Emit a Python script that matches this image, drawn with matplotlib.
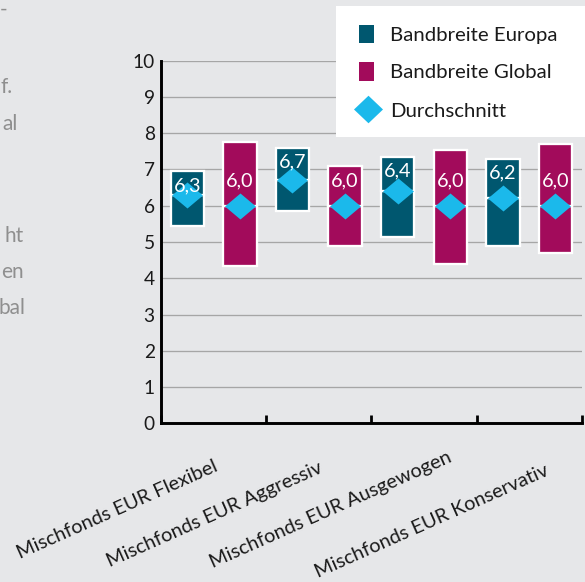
import matplotlib
matplotlib.use("Agg")
import matplotlib.pyplot as plt
from matplotlib.path import Path
from matplotlib.patches import Rectangle
import numpy as np

# ---- data -------------------------------------------------------------
categories = [
    "Mischfonds EUR Flexibel",
    "Mischfonds EUR Aggressiv",
    "Mischfonds EUR Ausgewogen",
    "Mischfonds EUR Konservativ",
]
series_names = ["Bandbreite Europa", "Bandbreite Global", "Durchschnitt"]

europa_low = np.array([5.45, 5.85, 5.15, 4.90])
europa_high = np.array([6.95, 7.60, 7.35, 7.30])
europa_avg = np.array([6.3, 6.7, 6.4, 6.2])

global_low = np.array([4.35, 4.90, 4.40, 4.70])
global_high = np.array([7.75, 7.10, 7.55, 7.70])
global_avg = np.array([6.0, 6.0, 6.0, 6.0])

y_ticks = list(range(0, 11))

# fragments of the neighbouring paragraph, clipped by the left edge
side_text = ["-", "f.", "al", "ht", "en", "bal"]

# ---- style ------------------------------------------------------------
BG = "#e6e7e9"
C_EU = "#00576f"
C_GL = "#a20b5b"
C_AVG = "#1bb9eb"
TXT = "#1a1a1a"
GRID = "#a6a6a6"

plt.rcParams["font.family"] = ["Lato", "DejaVu Sans"]

W, H = 585, 582
PT = 0.72  # points per pixel at 100 dpi


def px_box(x0, y0, x1, y1):
    """Figure-fraction rectangle from pixel edges (origin top-left)."""
    return [x0 / W, 1 - y1 / H, (x1 - x0) / W, (y1 - y0) / H]


def diamond(h):
    verts = [(-1, 0), (0, h), (1, 0), (0, -h), (-1, 0)]
    codes = [Path.MOVETO, Path.LINETO, Path.LINETO, Path.LINETO, Path.CLOSEPOLY]
    return Path(verts, codes)


def fmt(v):
    return f"{v:.1f}".replace(".", ",")


fig = plt.figure(figsize=(W / 100, H / 100), dpi=100, facecolor=BG)

# ---- side paragraph fragments ----------------------------------------
side_pos = [(7, 16), (13, 93), (18, 130), (24, 242), (24, 278), (26, 314)]
for s, (x, y) in zip(side_text, side_pos):
    fig.text(x / W, 1 - y / H, s, ha="right", va="baseline", fontsize=15,
             color="#8f8f8f")

# ---- main axes --------------------------------------------------------
ax = fig.add_axes(px_box(161, 60.7, 581.7, 423.3))
ax.set_facecolor(BG)
ax.set_xlim(0, 4)
ax.set_ylim(0, 10)
ax.set_axisbelow(True)

ax.set_yticks(y_ticks)
ax.yaxis.grid(True, color=GRID, lw=0.95)
ax.tick_params(axis="y", length=0, pad=4.5, labelsize=13.8, labelcolor=TXT)

ax.set_xticks(range(len(categories) + 1))
ax.tick_params(axis="x", direction="in", length=6, width=2.0, color="black",
               labelbottom=False)

for side in ("top", "right"):
    ax.spines[side].set_visible(False)
for side in ("left", "bottom"):
    ax.spines[side].set_linewidth(2.1)
    ax.spines[side].set_color("black")

idx = np.arange(len(categories))
x_eu = idx + 0.25
x_gl = idx + 0.75
bw = 0.318
edge = dict(edgecolor="white", linewidth=1.65, zorder=3)

# each band drawn as two stacked pieces split at the average
ax.bar(x_eu, europa_avg - europa_low, bottom=europa_low, width=bw, color=C_EU, **edge)
ax.bar(x_eu, europa_high - europa_avg, bottom=europa_avg, width=bw, color=C_EU, **edge)
ax.bar(x_gl, global_avg - global_low, bottom=global_low, width=bw, color=C_GL, **edge)
ax.bar(x_gl, global_high - global_avg, bottom=global_avg, width=bw, color=C_GL, **edge)

mk = diamond(0.84)
ax.plot(x_eu, europa_avg, ls="none", marker=mk, ms=22.3, color=C_AVG,
        mec="none", zorder=4)
ax.plot(x_gl, global_avg, ls="none", marker=mk, ms=22.3, color=C_AVG,
        mec="none", zorder=4)

for x, top, v in zip(x_eu, europa_high, europa_avg):
    ax.annotate(fmt(v), xy=(x, top), xytext=(0, -20 * PT), textcoords="offset points",
                ha="center", va="baseline", color="white", fontsize=14.3, zorder=5)
for x, v in zip(x_gl, global_avg):
    ax.annotate(fmt(v), xy=(x, v), xytext=(0, 18.9 * PT), textcoords="offset points",
                ha="center", va="baseline", color="white", fontsize=14.3, zorder=5)

# rotated category labels, centred below-left of each group
label_shift = [(-97, 85), (-105, 90), (-93.5, 85), (-98, 97)]
for i, (name, (dx, dy)) in enumerate(zip(categories, label_shift)):
    ax.annotate(name, xy=(i + 0.5, 0), xytext=(dx * PT, -dy * PT),
                textcoords="offset points", rotation=24, rotation_mode="anchor",
                ha="center", va="center_baseline", fontsize=14.3, color=TXT,
                annotation_clip=False)

# ---- legend box -------------------------------------------------------
lg = fig.add_axes(px_box(336, 6, 585, 137))
lg.set_facecolor("white")
lg.set_xlim(336, 585)
lg.set_ylim(137, 6)
lg.set_xticks([])
lg.set_yticks([])
for s in lg.spines.values():
    s.set_visible(False)

lg.add_patch(Rectangle((359, 25), 15, 18, color=C_EU, lw=0))
lg.add_patch(Rectangle((359, 62), 15, 18.5, color=C_GL, lw=0))
lg.plot([368.5], [109], ls="none", marker=diamond(0.95), ms=29 * PT,
        color=C_AVG, mec="none")
for name, yb in zip(series_names, [40.7, 78.3, 117.3]):
    lg.text(390, yb, name, ha="left", va="baseline", fontsize=14.7, color=TXT)

fig.savefig("out.png", dpi=100, facecolor=BG)
